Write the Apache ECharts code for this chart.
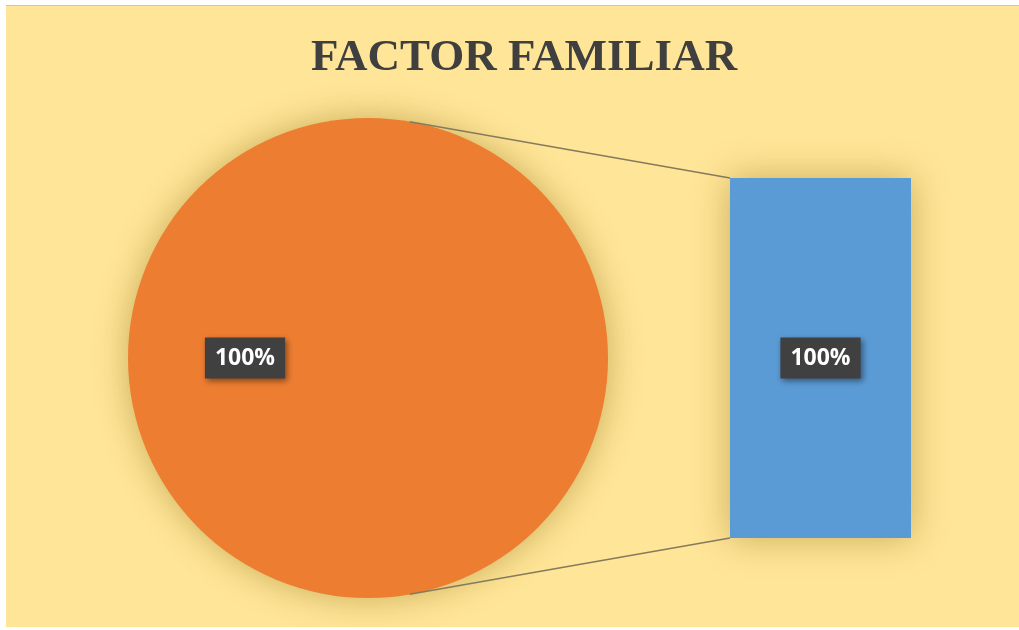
<!DOCTYPE html>
<html>
<head>
<meta charset="utf-8">
<script src="https://cdn.jsdelivr.net/npm/echarts@6/dist/echarts.min.js"></script>
<style>
html,body{margin:0;padding:0;background:#ffffff;width:1019px;height:630px;overflow:hidden;}
#frame{position:absolute;left:6px;top:5px;width:1013px;height:622px;border-top:1px solid #c9c4b4;}
#c{width:1013px;height:621px;}
</style>
</head>
<body>
<div id="frame"><div id="c"></div></div>
<script>
const titleText = 'FACTOR FAMILIAR';
const pieCategories = ['Factor familiar'];
const pieValues = [100];
const barCategories = ['Factor familiar'];
const barValues = [100];
const pieLabels = ['100%'];
const barLabels = ['100%'];

const chart = echarts.init(document.getElementById('c'));
const pieCenter = [362, 352];
const pieRadius = 240;
const grid = {left: 724, top: 172, width: 181, height: 360};

const labelBox = {
  color: '#ffffff', fontWeight: 'bold', fontSize: 23,
  fontFamily: 'Open Sans, Arial, sans-serif',
  backgroundColor: '#404040', padding: [10, 10, 8, 10],
  shadowColor: 'rgba(0,0,0,0.45)', shadowBlur: 6, shadowOffsetX: 2, shadowOffsetY: 2
};

chart.setOption({
  backgroundColor: '#FFE597',
  animation: false,
  title: {
    text: titleText, left: 513, top: 25, textAlign: 'center',
    textStyle: {fontFamily: 'Liberation Serif, Times New Roman, serif', fontWeight: 'bold', fontSize: 45, color: '#3f3f3f'}
  },
  grid: grid,
  xAxis: {type: 'category', data: barCategories, show: false},
  yAxis: {type: 'value', min: 0, max: 100, show: false},
  series: [
    {
      type: 'pie', center: pieCenter, radius: pieRadius, startAngle: 0,
      silent: true,
      data: pieCategories.map((n, i) => ({name: n, value: pieValues[i]})),
      itemStyle: {color: '#ED7D31', shadowColor: 'rgba(120,90,0,0.4)', shadowBlur: 34},
      label: Object.assign({show: true, position: 'inside', formatter: p => pieLabels[p.dataIndex]}, labelBox),
      labelLine: {show: false}
    },
    {
      type: 'bar', barWidth: '100%',
      data: barValues,
      itemStyle: {color: '#5B9BD5', shadowColor: 'rgba(120,90,0,0.4)', shadowBlur: 34},
      label: Object.assign({show: true, position: 'inside', formatter: p => barLabels[p.dataIndex]}, labelBox)
    }
  ]
});

// connector lines from pie edge to bar corners, computed from the scales
const yTop = chart.convertToPixel({yAxisIndex: 0}, barValues[0]);
const yBot = chart.convertToPixel({yAxisIndex: 0}, 0);
const xLeft = chart.convertToPixel({xAxisIndex: 0}, barCategories[0]) - grid.width / 2;
const a = 80 * Math.PI / 180;
const pTop = [pieCenter[0] + pieRadius * Math.cos(a), pieCenter[1] - pieRadius * Math.sin(a)];
const pBot = [pieCenter[0] + pieRadius * Math.cos(a), pieCenter[1] + pieRadius * Math.sin(a)];
chart.setOption({
  graphic: [
    {type: 'line', shape: {x1: pTop[0], y1: pTop[1], x2: xLeft, y2: yTop}, style: {stroke: '#857a5c', lineWidth: 1.5}, z: 10},
    {type: 'line', shape: {x1: pBot[0], y1: pBot[1], x2: xLeft, y2: yBot}, style: {stroke: '#857a5c', lineWidth: 1.5}, z: 10}
  ]
});
</script>
</body>
</html>
